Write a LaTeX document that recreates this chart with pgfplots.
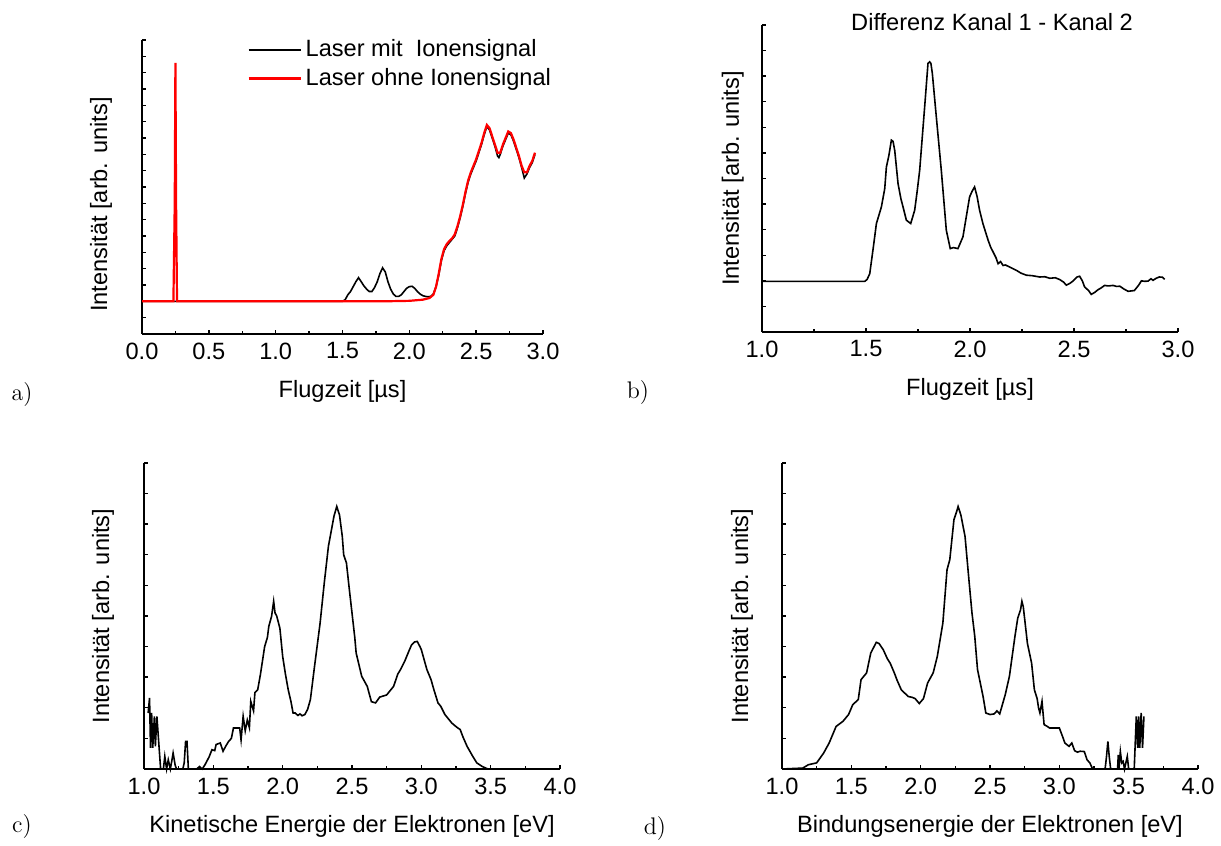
\documentclass[border=0pt]{standalone}
\usepackage{pgfplots}
\pgfplotsset{compat=1.18}
\usepackage{fontspec}
\newfontfamily\arial{Liberation Sans}
\newcommand{\af}{\fontsize{11.8}{13.5}\arial}
\pgfplotsset{
  panel/.style={
    scale only axis,
    axis lines*=left,
    axis line style={-, line width=0.9pt},
    tick style={black, line width=0.7pt},
    xtick align=inside, ytick align=inside,
    major tick length=2.2pt, minor tick length=1.3pt,
    ytick distance=1,
    yticklabels={},
    minor x tick num=1,
    xtick distance=0.5,
    tick label style={font=\af},
    /pgf/number format/fixed,
    /pgf/number format/fixed zerofill,
    /pgf/number format/precision=1,
    /pgf/number format/assume math mode=true,
    label style={font=\af},
    x label style={at={(axis description cs:0.5,0)}, anchor=center, yshift=-28.5pt},
    xticklabel style={anchor=center, yshift=-8.5pt},
    every axis plot/.append style={line width=0.8pt},
    clip=false,
  }
}
\begin{document}
\begin{tikzpicture}
\useasboundingbox (0,0) rectangle (610.5pt,423pt);
% ---------------- panel a
\begin{axis}[panel, at={(71pt,256pt)}, anchor=south west,
  width=200.5pt, height=147pt,
  xmin=0, xmax=3, ymin=0, ymax=18,
  xlabel={Flugzeit [µs]}, ylabel={Intensität [arb. units]},
  y label style={at={(axis description cs:-0.102,0.44)}, anchor=center},
  legend style={draw=none, fill=none, font=\af, at={(axis description cs:0.262,1.016)}, anchor=north west, row sep=0.3pt, inner sep=0pt},
  legend cell align=left,
  legend image code/.code={\draw[#1] (0pt,0pt) -- (26pt,0pt);},
]
\addplot[black] coordinates {(0,2.0) (0.5,2.0) (1.0,2.0) (1.5,2.0) (1.52,2.1) (1.54,2.4) (1.56,2.6) (1.58,2.9) (1.60,3.2) (1.62,3.45) (1.64,3.2) (1.66,2.95) (1.68,2.75) (1.70,2.6) (1.72,2.6) (1.74,2.85) (1.76,3.2) (1.78,3.7) (1.80,4.05) (1.82,3.8) (1.84,3.2) (1.86,2.75) (1.88,2.45) (1.90,2.3) (1.92,2.3) (1.94,2.4) (1.96,2.6) (1.98,2.8) (2.00,2.9) (2.02,2.92) (2.04,2.8) (2.06,2.6) (2.08,2.45) (2.10,2.35) (2.12,2.3) (2.14,2.28) (2.16,2.3) (2.18,2.45) (2.20,2.9) (2.22,3.6) (2.24,4.5) (2.26,5.1) (2.28,5.4) (2.30,5.6) (2.32,5.8) (2.34,6.0) (2.36,6.5) (2.38,7.1) (2.40,7.8) (2.42,8.6) (2.44,9.3) (2.46,9.8) (2.48,10.2) (2.50,10.6) (2.52,11.1) (2.54,11.6) (2.56,12.2) (2.58,12.7) (2.60,12.5) (2.62,12.0) (2.64,11.5) (2.66,10.9) (2.67,10.8) (2.68,11.0) (2.70,11.5) (2.72,11.9) (2.74,12.3) (2.76,12.2) (2.78,11.8) (2.80,11.3) (2.82,10.8) (2.84,10.2) (2.86,9.55) (2.88,9.8) (2.90,10.2) (2.92,10.5) (2.94,11.0)};
\addlegendentry{Laser mit\ \ Ionensignal}
\addplot[red, line width=1.1pt] coordinates {(0,2.0) (0.235,2.0) (0.245,8) (0.25,16.6) (0.255,8) (0.262,2.0) (0.5,2.0) (1.0,2.0) (1.5,2.0) (1.8,2.0) (2.0,2.03) (2.1,2.1) (2.15,2.2) (2.18,2.4) (2.20,2.9) (2.22,3.7) (2.24,4.6) (2.26,5.2) (2.28,5.5) (2.30,5.7) (2.32,5.85) (2.34,6.1) (2.36,6.6) (2.38,7.2) (2.40,7.9) (2.42,8.7) (2.44,9.4) (2.46,9.9) (2.48,10.3) (2.50,10.7) (2.52,11.2) (2.54,11.7) (2.56,12.3) (2.58,12.8) (2.60,12.6) (2.62,12.1) (2.64,11.6) (2.66,11.1) (2.68,11.1) (2.70,11.6) (2.72,12.0) (2.74,12.4) (2.76,12.3) (2.78,11.9) (2.80,11.4) (2.82,10.9) (2.84,10.3) (2.86,9.9) (2.88,9.9) (2.90,10.3) (2.92,10.6) (2.94,11.1)};
\addlegendentry{Laser ohne Ionensignal}
\end{axis}
% ---------------- panel b
\begin{axis}[panel, at={(381pt,257pt)}, anchor=south west,
  width=208pt, height=153.5pt,
  xmin=1, xmax=3, ymin=0, ymax=12,
  xlabel={Flugzeit [µs]}, ylabel={Intensität [arb. units]},
  y label style={at={(axis description cs:-0.07,0.5)}, anchor=center},
]
\node[font=\af, anchor=center] at (axis description cs:0.553,1.01) {Differenz Kanal 1 - Kanal 2};
\addplot[black] coordinates {(1.0,1.98) (1.2,1.98) (1.4,1.98) (1.494,1.98) (1.505,2.05) (1.518,2.28) (1.535,3.3) (1.55,4.24) (1.574,4.89) (1.59,5.6) (1.598,6.45) (1.61,6.9) (1.622,7.5) (1.63,7.45) (1.638,7.1) (1.654,5.8) (1.668,5.2) (1.678,4.89) (1.694,4.37) (1.715,4.24) (1.734,4.76) (1.746,5.5) (1.758,6.32) (1.782,8.8) (1.798,10.5) (1.806,10.56) (1.812,10.5) (1.819,10.1) (1.838,8.41) (1.862,6.32) (1.886,3.98) (1.905,3.26) (1.92,3.3) (1.942,3.26) (1.966,3.72) (1.98,4.4) (1.998,5.28) (2.01,5.5) (2.022,5.67) (2.034,5.3) (2.046,4.76) (2.062,4.24) (2.075,3.9) (2.087,3.59) (2.1,3.3) (2.111,3.13) (2.125,2.9) (2.135,2.67) (2.147,2.75) (2.159,2.6) (2.17,2.62) (2.183,2.57) (2.2,2.5) (2.223,2.41) (2.245,2.3) (2.271,2.22) (2.3,2.2) (2.335,2.15) (2.36,2.16) (2.383,2.1) (2.41,2.12) (2.431,2.05) (2.45,1.95) (2.463,1.83) (2.48,1.9) (2.495,1.99) (2.515,2.15) (2.527,2.18) (2.54,2.0) (2.551,1.76) (2.57,1.62) (2.583,1.47) (2.6,1.55) (2.615,1.65) (2.63,1.72) (2.647,1.82) (2.665,1.8) (2.688,1.82) (2.705,1.78) (2.72,1.79) (2.74,1.68) (2.76,1.59) (2.79,1.62) (2.81,1.82) (2.824,2.0) (2.84,1.98) (2.856,1.99) (2.87,2.08) (2.88,2.02) (2.895,2.1) (2.91,2.15) (2.925,2.14) (2.936,2.06)};
\end{axis}
% ---------------- panel c
\begin{axis}[panel, at={(72pt,38.5pt)}, anchor=south west,
  width=208pt, height=153pt,
  xmin=1, xmax=4, ymin=0, ymax=10,
  xlabel={Kinetische Energie der Elektronen [eV]}, ylabel={Intensität [arb. units]},
  y label style={at={(axis description cs:-0.0986,0.5)}, anchor=center},
]
\addplot[black] coordinates {(1.03,1.83) (1.04,2.32) (1.047,0.69) (1.055,1.83) (1.063,0.69) (1.075,1.72) (1.082,0.74) (1.093,1.72) (1.11,0.63) (1.12,0) (1.14,0) (1.15,0.41) (1.163,0) (1.175,0.3) (1.19,0) (1.2,0.25) (1.21,0.52) (1.225,0.12) (1.235,0) (1.28,0) (1.29,0.2) (1.30,0.9) (1.31,0.9) (1.32,0) (1.38,0) (1.40,0.08) (1.42,0) (1.44,0.14) (1.47,0.4) (1.49,0.63) (1.51,0.6) (1.52,0.8) (1.55,0.85) (1.57,0.58) (1.59,0.75) (1.61,0.9) (1.63,1.0) (1.645,1.34) (1.69,1.34) (1.70,0.95) (1.715,1.72) (1.73,1.25) (1.745,1.6) (1.76,1.35) (1.77,2.21) (1.79,1.9) (1.80,2.5) (1.82,2.59) (1.84,3.1) (1.87,4.0) (1.89,4.3) (1.90,4.66) (1.92,4.99) (1.935,5.48) (1.945,5.1) (1.957,5.0) (1.98,4.6) (2.00,3.68) (2.02,3.1) (2.04,2.59) (2.06,2.2) (2.075,1.83) (2.09,1.83) (2.11,1.75) (2.125,1.8) (2.14,1.74) (2.16,1.78) (2.18,1.95) (2.20,2.27) (2.23,3.36) (2.27,4.77) (2.30,6.08) (2.33,7.28) (2.35,7.77) (2.37,8.26) (2.39,8.58) (2.41,8.3) (2.43,7.6) (2.44,7.0) (2.46,6.73) (2.48,5.9) (2.50,5.1) (2.52,4.3) (2.53,3.79) (2.57,3.03) (2.61,2.70) (2.64,2.2) (2.67,2.16) (2.70,2.35) (2.75,2.42) (2.80,2.7) (2.83,3.1) (2.85,3.25) (2.88,3.52) (2.91,3.85) (2.93,4.06) (2.95,4.15) (2.97,4.17) (2.99,4.0) (3.00,3.9) (3.04,3.25) (3.07,2.92) (3.09,2.6) (3.12,2.16) (3.14,2.05) (3.17,1.78) (3.22,1.5) (3.26,1.35) (3.28,1.29) (3.30,1.05) (3.33,0.74) (3.37,0.42) (3.40,0.2) (3.44,0.08) (3.48,0) (3.6,0) (3.9,0)};
\end{axis}
% ---------------- panel d
\begin{axis}[panel, at={(391pt,38.5pt)}, anchor=south west,
  width=208pt, height=153pt,
  xmin=1, xmax=4, ymin=0, ymax=10,
  xlabel={Bindungsenergie der Elektronen [eV]}, ylabel={Intensität [arb. units]},
  y label style={at={(axis description cs:-0.096,0.5)}, anchor=center},
]
\addplot[black] coordinates {(1.0,0) (1.15,0.03) (1.19,0.14) (1.25,0.2) (1.30,0.52) (1.34,0.85) (1.39,1.39) (1.44,1.56) (1.48,1.78) (1.51,2.1) (1.55,2.27) (1.57,2.92) (1.61,3.14) (1.64,3.79) (1.68,4.14) (1.70,4.1) (1.73,3.9) (1.76,3.6) (1.78,3.46) (1.81,3.14) (1.83,2.9) (1.86,2.59) (1.91,2.37) (1.94,2.34) (1.96,2.3) (1.99,2.14) (2.02,2.3) (2.05,2.81) (2.09,3.14) (2.12,3.68) (2.16,4.77) (2.19,6.51) (2.21,6.84) (2.24,8.15) (2.26,8.42) (2.27,8.58) (2.29,8.3) (2.32,7.6) (2.35,6.08) (2.37,5.1) (2.39,4.34) (2.41,3.25) (2.45,2.37) (2.47,1.83) (2.50,1.78) (2.53,1.8) (2.55,1.9) (2.57,1.8) (2.61,2.43) (2.64,3.03) (2.68,4.34) (2.70,4.93) (2.72,5.2) (2.73,5.48) (2.74,5.3) (2.75,4.9) (2.77,4.1) (2.80,3.46) (2.82,2.59) (2.84,2.3) (2.85,2.0) (2.86,1.83) (2.875,2.21) (2.89,1.45) (2.91,1.4) (2.93,1.34) (2.96,1.34) (3.00,1.34) (3.02,1.1) (3.04,0.85) (3.07,0.74) (3.09,0.85) (3.11,0.6) (3.13,0.55) (3.15,0.58) (3.18,0.57) (3.20,0.3) (3.22,0.2) (3.24,0) (3.33,0) (3.34,0.4) (3.35,0.9) (3.36,0.4) (3.37,0) (3.42,0) (3.425,0.46) (3.43,0) (3.44,0.57) (3.45,0.2) (3.46,0.25) (3.47,0) (3.49,0.41) (3.50,0) (3.54,0) (3.555,1.72) (3.565,0.69) (3.572,1.72) (3.58,0.69) (3.59,1.83) (3.60,0.69) (3.61,1.72)};
\end{axis}
% panel letters
\node[font=\fontsize{12}{14}\selectfont] at (11pt,225.5pt) {a)};
\node[font=\fontsize{12}{14}\selectfont] at (319pt,226.5pt) {b)};
\node[font=\fontsize{12}{14}\selectfont] at (11pt,9.5pt) {c)};
\node[font=\fontsize{12}{14}\selectfont, inner sep=1pt] at (327.5pt,8.5pt) {d)};
\end{tikzpicture}
\end{document}
